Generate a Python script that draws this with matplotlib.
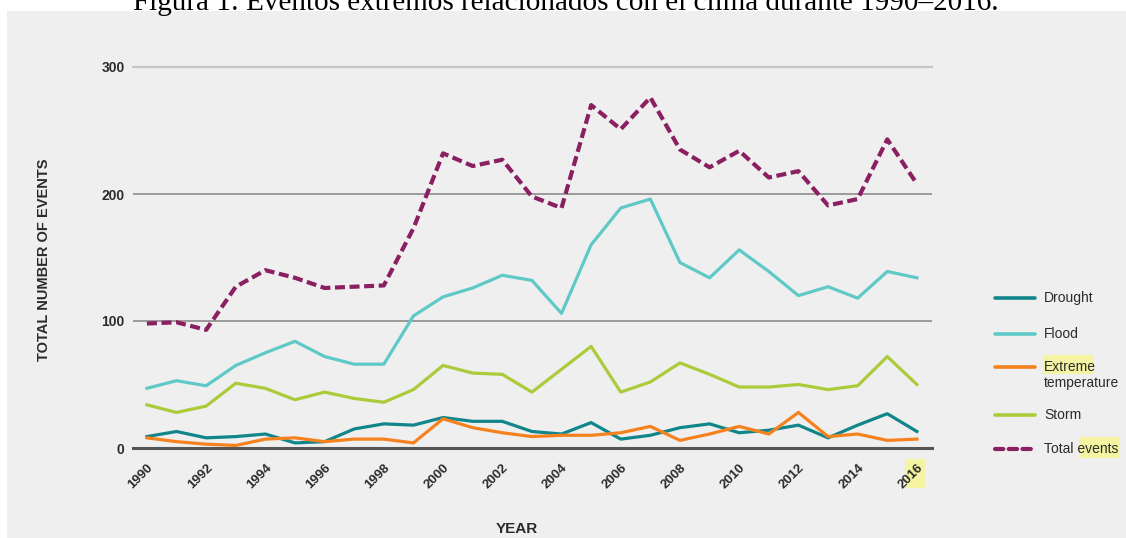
import matplotlib
matplotlib.use("Agg")
import matplotlib.pyplot as plt
from matplotlib.patches import Rectangle
from matplotlib.lines import Line2D

# Data
years = list(range(1990, 2017))
drought = [9, 13, 8, 9, 11, 4, 5, 15, 19, 18, 24, 21, 21, 13, 11, 20, 7, 10, 16, 19, 12, 14, 18, 8, 18, 27, 13]
flood = [47, 53, 49, 65, 75, 84, 72, 66, 66, 104, 119, 126, 136, 132, 106, 160, 189, 196, 146, 134, 156, 139, 120, 127, 118, 139, 134]
extreme_temp = [8, 5, 3, 2, 7, 8, 5, 7, 7, 4, 23, 16, 12, 9, 10, 10, 12, 17, 6, 11, 17, 11, 28, 9, 11, 6, 7]
storm = [34, 28, 33, 51, 47, 38, 44, 39, 36, 46, 65, 59, 58, 44, 62, 80, 44, 52, 67, 58, 48, 48, 50, 46, 49, 72, 50]
total = [98, 99, 93, 127, 140, 134, 126, 127, 128, 173, 232, 222, 227, 198, 189, 270, 251, 276, 235, 221, 234, 213, 218, 191, 196, 243, 208]

yticks = [0, 100, 200, 300]
xticks = list(range(1990, 2017, 2))

W, H = 1126, 538
font = ["Liberation Sans", "DejaVu Sans"]
txt_col = "#2b2b2b"
hl_col = "#f4f4a2"

fig = plt.figure(figsize=(W / 100, H / 100), dpi=100)
fig.patch.set_facecolor("white")


def fx(x):
    return x / W


def fy(y):
    return 1 - y / H


# gray panel behind everything
fig.patches.append(Rectangle((fx(7), 0), 1 - fx(7), fy(11), transform=fig.transFigure,
                             facecolor="#efefef", edgecolor="none", zorder=-3))

# title, cut at the top of the page as in the source
fig.text(fx(566), fy(10), "Figura 1: Eventos extremos relacionados con el clima durante 1990\u20132016.",
         family="Liberation Serif", fontsize=21, ha="center", va="baseline", color="black")

ax = fig.add_axes([fx(133), fy(448), fx(932) - fx(133), fy(67) - fy(448)])
ax.set_facecolor("none")
ax.set_xlim(1989.53, 2016.51)
ax.set_ylim(0, 300)
for s in ax.spines.values():
    s.set_visible(False)

# horizontal guide lines
ax.axhline(300, color="#c6c6c6", lw=1.6, zorder=1, clip_on=False)
ax.axhline(200, color="#8c8c8c", lw=1.2, zorder=1)
ax.axhline(100, color="#8c8c8c", lw=1.2, zorder=1)
ax.axhline(0, color="#555555", lw=2.2, zorder=1, clip_on=False)

ax.plot(years, drought, color="#11868a", lw=2.3, zorder=3)
ax.plot(years, flood, color="#5ec9c6", lw=2.3, zorder=3)
ax.plot(years, storm, color="#abcb3a", lw=2.3, zorder=3)
ax.plot(years, extreme_temp, color="#f5821f", lw=2.3, zorder=4)
ax.plot(years, total, color="#8a1f62", lw=3.0, ls=(0, (2.4, 1.1)), zorder=5)

ax.set_yticks(yticks)
ax.set_yticklabels([str(v) for v in yticks])
ax.set_xticks(xticks)
ax.set_xticklabels([str(v) for v in xticks])
ax.tick_params(axis="both", length=0, colors=txt_col)
ax.tick_params(axis="y", pad=6)
ax.tick_params(axis="x", pad=10)
for lab in ax.get_yticklabels():
    lab.set_family(font)
    lab.set_fontweight("bold")
    lab.set_fontsize(10)
for lab in ax.get_xticklabels():
    lab.set_family(font)
    lab.set_fontweight("bold")
    lab.set_fontsize(9.5)
    lab.set_rotation(45)
    lab.set_ha("right")
    lab.set_va("top")
    lab.set_rotation_mode("anchor")

fig.text(fx(44), fy(260), "TOTAL NUMBER OF EVENTS", rotation=90, ha="center", va="center",
         family=font, fontweight="bold", fontsize=10.5, color=txt_col)
fig.text(fx(517), fy(529), "YEAR", ha="center", va="center",
         family=font, fontweight="bold", fontsize=11, color=txt_col)

# highlight marks (pdf annotations in the source)
for x0, y0, x1, y1 in [(905, 459, 925, 488), (1043, 355, 1094, 374), (1079, 437, 1119, 458)]:
    fig.patches.append(Rectangle((fx(x0), fy(y1)), fx(x1) - fx(x0), fy(y0) - fy(y1),
                                 transform=fig.transFigure, facecolor=hl_col,
                                 edgecolor="none", zorder=-1))

# legend
legend_items = [
    ("Drought", "#11868a", "-", 298, 298),
    ("Flood", "#5ec9c6", "-", 334, 334),
    ("Extreme\ntemperature", "#f5821f", "-", 367, 375),
    ("Storm", "#abcb3a", "-", 415, 415),
    ("Total events", "#8a1f62", "--", 449, 449),
]
for label, col, style, ly, ty in legend_items:
    ln = Line2D([fx(995), fx(1035)], [fy(ly), fy(ly)], transform=fig.transFigure,
                color=col, lw=3.0 if style == "--" else 2.6, solid_capstyle="round",
                dash_capstyle="round", ls=(0, (2.0, 1.3)) if style == "--" else "-")
    fig.add_artist(ln)
    fig.text(fx(1044), fy(ty), label, ha="left", va="center", family=font,
             fontsize=10, color=txt_col, linespacing=1.1)

fig.savefig("out.png", dpi=100)
